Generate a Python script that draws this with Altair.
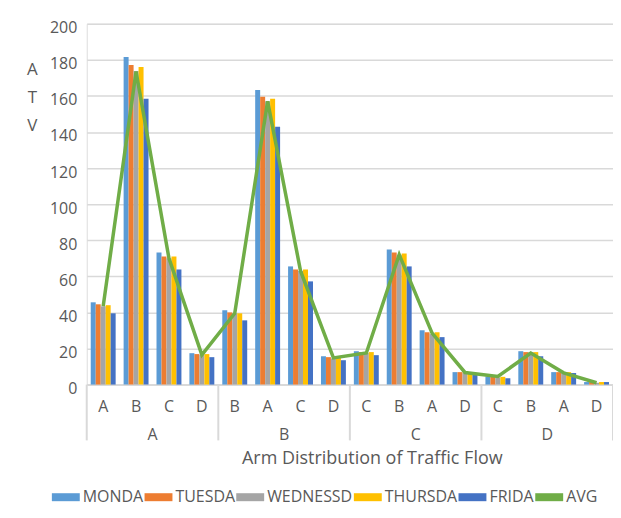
import altair as alt
import pandas as pd

groups = ["A", "A", "A", "A", "B", "B", "B", "B", "C", "C", "C", "C", "D", "D", "D", "D"]
arms = ["A", "B", "C", "D", "B", "A", "C", "D", "C", "B", "A", "D", "C", "B", "A", "D"]
days = ["MONDA", "TUESDA", "WEDNESSD", "THURSDA", "FRIDA"]
mon = [45.6, 181.6, 73.2, 17.4, 41.2, 163.3, 65.5, 15.7, 18.5, 74.9, 30.1, 6.9, 4.5, 18.5, 6.9, 1.4]
tue = [44.5, 177.2, 71.0, 16.9, 40.0, 159.5, 63.8, 15.2, 18.0, 73.2, 29.0, 6.9, 4.3, 18.0, 6.9, 1.4]
wed = [43.4, 173.8, 70.0, 16.5, 39.5, 157.0, 63.0, 14.5, 17.5, 72.0, 28.0, 6.5, 4.0, 18.0, 6.5, 1.0]
thu = [44.0, 176.0, 71.0, 16.9, 39.5, 158.4, 63.8, 15.0, 18.0, 72.7, 29.0, 6.5, 4.3, 18.0, 6.9, 1.4]
fri = [39.5, 158.4, 63.8, 15.2, 35.6, 142.9, 57.2, 13.5, 16.3, 65.5, 26.3, 5.5, 3.5, 15.7, 6.4, 1.4]
avg = [43.4, 173.5, 70.0, 16.5, 39.5, 157.0, 63.0, 14.8, 17.5, 72.0, 28.5, 6.7, 4.5, 17.5, 6.5, 1.0]
colors = ["#5B9BD5", "#ED7D31", "#A5A5A5", "#FFC000", "#4472C4", "#70AD47"]
y_ticks = [0, 20, 40, 60, 80, 100, 120, 140, 160, 180, 200]

keys = [f"{g}-{a}" for g, a in zip(groups, arms)]
series = [mon, tue, wed, thu, fri]

rows = []
for d, vals in zip(days, series):
    for k, v in zip(keys, vals):
        rows.append({"key": k, "day": d, "value": v})
df = pd.DataFrame(rows)
df_avg = pd.DataFrame({"key": keys, "avg": avg})

group_names = ["A", "B", "C", "D"]
first_keys = [keys[i * 4] for i in range(4)]
second_keys = [keys[i * 4 + 1] for i in range(4)]
df_left = pd.DataFrame({"key": first_keys})
df_right = pd.DataFrame({"key": [keys[-1]]})
df_grp = pd.DataFrame({"key": second_keys, "grp": group_names})

W, H = 528, 362
GRID = "#d9d9d9"
TXT = "#595959"
FONT = "Open Sans"

xscale = alt.Scale(domain=keys, paddingInner=0, paddingOuter=0)
yscale = alt.Scale(domain=[0, 200], nice=False)

xaxis = alt.Axis(
    labelExpr="substring(datum.value, 2, 3)", labelFontSize=16, labelColor=TXT,
    labelFont=FONT, labelPadding=14, labelAngle=0, ticks=False, domainColor=GRID,
    domainWidth=2, grid=False, title="Arm Distribution of Traffic Flow",
    titleFontSize=18, titleFont=FONT, titleFontWeight="normal", titleColor=TXT,
    titleX=286, titleY=79, titleBaseline="alphabetic", titleAnchor="middle",
    titleAlign="center")
yaxis = alt.Axis(
    values=y_ticks, labelFontSize=16, labelColor=TXT, labelFont=FONT,
    labelPadding=10, labelOverlap=False, ticks=False, tickSize=0, domain=False,
    gridColor=GRID, gridWidth=1.5,
    labelOffset=4, title=["A", "T", "V"], titleAngle=0, titleFontSize=17, titleFont=FONT,
    titleFontWeight="normal", titleColor=TXT, titleLineHeight=28, titleX=-55, titleY=51,
    titleAlign="center", titleBaseline="alphabetic")

bars = alt.Chart(df).mark_bar().encode(
    x=alt.X("key:N", scale=xscale, axis=xaxis),
    xOffset=alt.XOffset("day:N", sort=days, scale=alt.Scale(domain=days, paddingInner=0, paddingOuter=0.8)),
    y=alt.Y("value:Q", scale=yscale, axis=yaxis),
    color=alt.Color("day:N", scale=alt.Scale(domain=days + ["AVG"], range=colors), legend=alt.Legend(
        orient="none", legendX=-35, legendY=461, direction="horizontal", columns=6, title=None,
        symbolType="M-1,-0.2857H1V0.2857H-1Z", symbolSize=784, symbolStrokeWidth=0,
        labelFont=FONT, labelFontSize=16, labelColor=TXT, labelOffset=3, columnPadding=1,
        labelLimit=300, labelBaseline="middle")),
)

line = alt.Chart(df_avg).mark_line(color="#70AD47", strokeWidth=3.5).encode(
    x=alt.X("key:N", scale=xscale, axis=xaxis),
    y=alt.Y("avg:Q", scale=yscale, axis=yaxis),
)

rule_left = alt.Chart(df_left).mark_rule(color=GRID, strokeWidth=2).encode(
    x=alt.X("key:N", scale=xscale, bandPosition=0, axis=xaxis),
    y=alt.value(H), y2=alt.value(H + 56),
)
rule_right = alt.Chart(df_right).mark_rule(color=GRID, strokeWidth=2).encode(
    x=alt.X("key:N", scale=xscale, bandPosition=1, axis=xaxis),
    y=alt.value(H), y2=alt.value(H + 56),
)
grp_text = alt.Chart(df_grp).mark_text(font=FONT, fontSize=16, color=TXT, baseline="alphabetic").encode(
    x=alt.X("key:N", scale=xscale, bandPosition=1, axis=xaxis),
    y=alt.value(H + 56),
    text="grp:N",
)

chart = alt.layer(bars, line, rule_left, rule_right, grp_text).properties(
    width=W, height=H, autosize="none",
    padding={"left": 79, "top": 15, "right": 0, "bottom": 119},
).configure_view(stroke=None).configure(font=FONT)

chart.save("out.html", embed_options={"renderer": "svg", "actions": False})
